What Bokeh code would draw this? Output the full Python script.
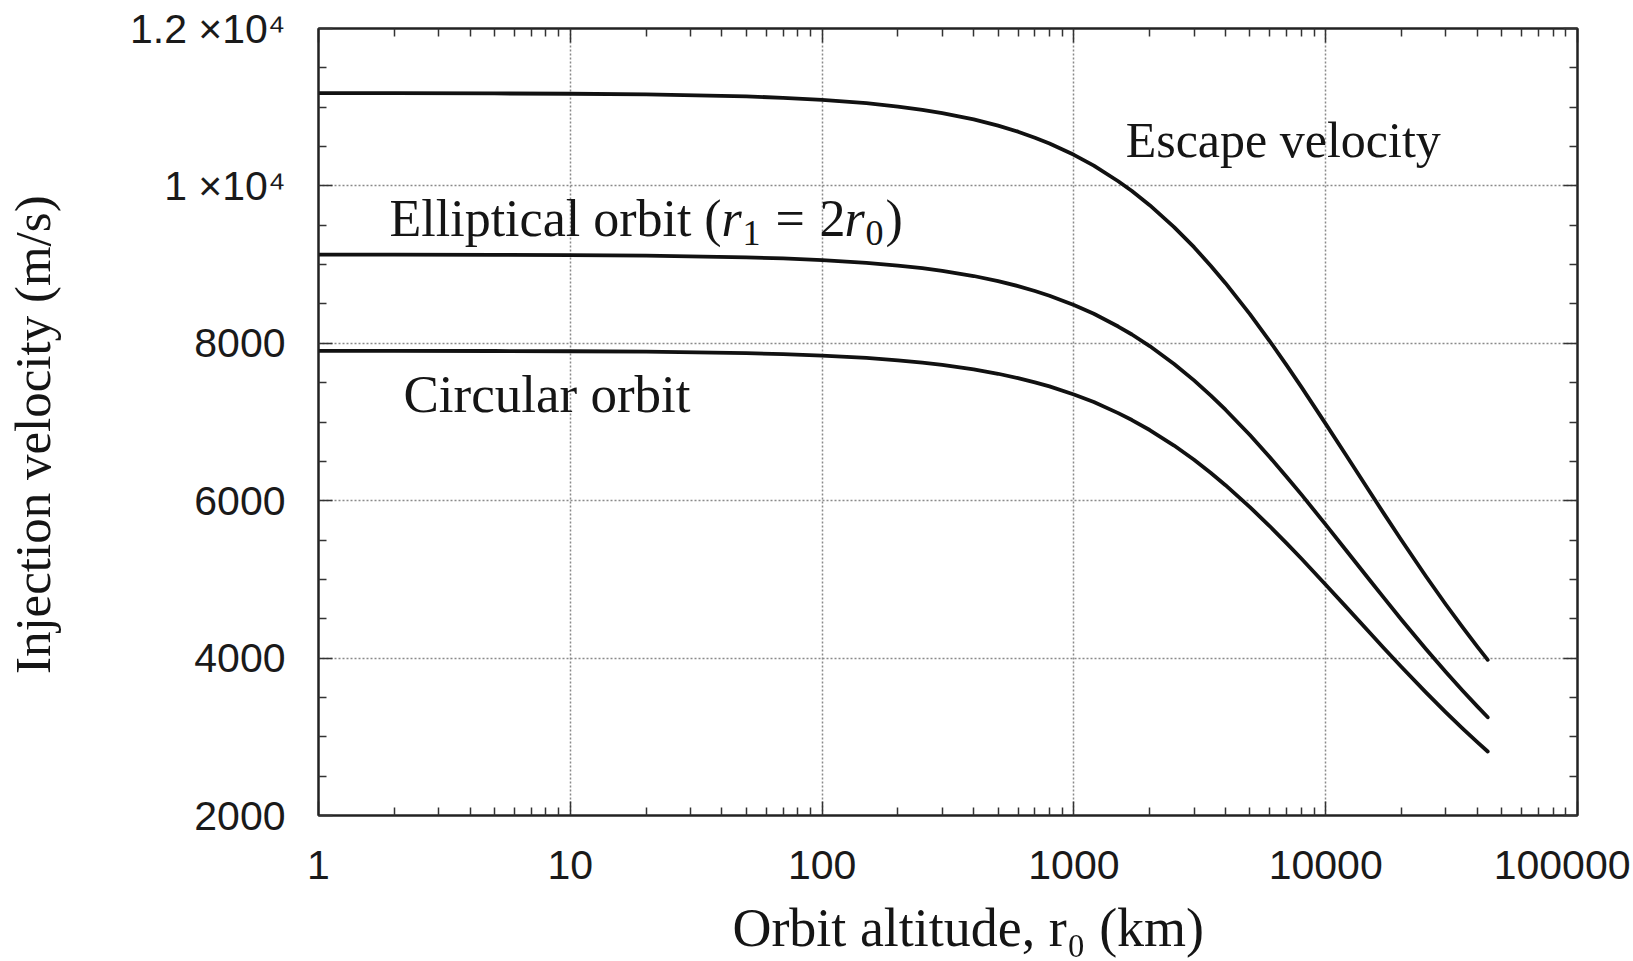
from bokeh.plotting import figure
from bokeh.models import (FixedTicker, LogAxis, LinearAxis, Label, Range1d)
from bokeh.embed import file_html
from bokeh.resources import INLINE

# ---- data ----
altitude_km = [1, 2, 5, 10, 20, 50, 70, 100, 150, 200, 250, 300, 400, 500, 600,
               700, 800, 1000, 1200, 1500, 1700, 2000, 2500, 3000, 3500, 4000,
               5000, 6000, 7000, 8000, 10000, 12000, 15000, 17000, 20000, 25000,
               30000, 35000, 40000, 44000]
circular = [7905, 7904, 7902, 7899, 7893, 7875, 7862, 7844, 7814, 7784, 7755,
            7726, 7669, 7613, 7558, 7504, 7452, 7350, 7253, 7113, 7025, 6898,
            6701, 6520, 6352, 6197, 5919, 5675, 5458, 5265, 4933, 4657, 4318,
            4129, 3887, 3564, 3310, 3104, 2932, 2813]
elliptical = [9128, 9127, 9124, 9121, 9114, 9093, 9078, 9057, 9023, 8988, 8955,
              8921, 8855, 8791, 8727, 8665, 8605, 8487, 8375, 8213, 8112, 7965,
              7738, 7529, 7335, 7156, 6835, 6553, 6302, 6080, 5696, 5377, 4986,
              4768, 4488, 4115, 3822, 3584, 3386, 3248]
escape = [11179, 11178, 11175, 11171, 11162, 11137, 11119, 11093, 11051, 11008,
          10967, 10926, 10845, 10766, 10689, 10612, 10539, 10395, 10257, 10059,
          9935, 9755, 9477, 9221, 8983, 8764, 8371, 8026, 7719, 7446, 6976, 6586,
          6107, 5839, 5497, 5040, 4681, 4390, 4146, 3978]

x_ticks = [1, 10, 100, 1000, 10000, 100000]
x_tick_labels = ["1", "10", "100", "1000", "10000", "100000"]
y_ticks = [2000, 4000, 6000, 8000, 10000, 12000]
y_tick_labels = ["2000", "4000", "6000", "8000", "1 \u00d710\u2074", "1.2 \u00d710\u2074"]

x_minor = [m * 10 ** k for k in range(5) for m in range(2, 10)]
y_minor = [v for v in range(2000, 12001, 500) if v % 2000 != 0]

TICK_FONT = "Liberation Sans"
SERIF = "Liberation Serif"
NB = "\u00a0"

p = figure(width=1630, height=960, x_axis_type="log",
           x_range=Range1d(1, 100000), y_range=Range1d(2000, 12000),
           output_backend="svg", toolbar_location=None,
           min_border_left=318, min_border_right=53,
           min_border_top=28, min_border_bottom=143)
p.background_fill_color = "white"
p.border_fill_color = "white"
p.outline_line_color = "#222222"
p.outline_line_width = 2

xt = FixedTicker(ticks=x_ticks, minor_ticks=x_minor)
yt = FixedTicker(ticks=y_ticks, minor_ticks=y_minor)

def style_axis(ax, ticker, show_labels):
    ax.ticker = ticker
    ax.axis_line_color = "#222222"
    ax.axis_line_width = 2
    ax.major_tick_in = 14
    ax.major_tick_out = 0
    ax.minor_tick_in = 8
    ax.minor_tick_out = 0
    ax.major_tick_line_color = "#333333"
    ax.major_tick_line_width = 1.5
    ax.minor_tick_line_color = "#333333"
    ax.minor_tick_line_width = 1.5
    if show_labels:
        ax.major_label_text_font = TICK_FONT
        ax.major_label_text_font_size = "41px"
        ax.major_label_text_color = "#1a1a1a"
    else:
        ax.major_label_text_font_size = "1px"
        ax.major_label_text_alpha = 0
        ax.major_label_standoff = 0

xa = p.xaxis[0]
style_axis(xa, xt, True)
xa.major_label_overrides = {t: l for t, l in zip(x_ticks, x_tick_labels)}
xa.major_label_standoff = 35
xa.axis_label = NB * 3 + "Orbit altitude, r\u2080 (km)"
xa.axis_label_text_font = SERIF
xa.axis_label_text_font_size = "54px"
xa.axis_label_text_font_style = "normal"
xa.axis_label_text_color = "#151515"
xa.axis_label_standoff = 16

ya = p.yaxis[0]
style_axis(ya, yt, True)
ya.major_label_overrides = {t: l for t, l in zip(y_ticks, y_tick_labels)}
ya.major_label_standoff = 33
ya.axis_label = "Injection velocity (m/s)" + NB * 2
ya.axis_label_text_font = SERIF
ya.axis_label_text_font_size = "51px"
ya.axis_label_text_font_style = "normal"
ya.axis_label_text_color = "#151515"
ya.axis_label_standoff = 66

top = LogAxis()
style_axis(top, xt, False)
p.add_layout(top, "above")
right = LinearAxis()
style_axis(right, yt, False)
p.add_layout(right, "right")

for g, t in ((p.xgrid[0], xt), (p.ygrid[0], yt)):
    g.ticker = t
    g.grid_line_color = "#8a8a8a"
    g.grid_line_width = 1.5
    g.grid_line_dash = "2 2"

for series in (escape, elliptical, circular):
    p.line(altitude_km, series, line_color="#111111", line_width=3.8,
           line_join="round", line_cap="round")

MID = 0.3375  # centre of the text box above the baseline, in em

def add_text(x, y, pieces):
    # each piece: text, x offset (px), baseline offset (px, up), size, style
    for txt, dx, dy, size, style in pieces:
        p.add_layout(Label(x=x, y=y, text=txt, x_offset=dx,
                           y_offset=dy + MID * size,
                           text_font=SERIF, text_font_size=f"{size}px",
                           text_font_style=style, text_color="#151515",
                           text_baseline="middle", text_align="left"))

add_text(1605, 10370, [("Escape velocity", 0, 0, 50, "normal")])

fs = 52
sub = 36
add_text(1.915, 9360, [
    ("Elliptical orbit (", 0, 0, fs, "normal"),
    ("r", 332, 0, fs, "italic"),
    ("1", 353, -9, sub, "normal"),
    ("=", 386, 0, fs, "normal"),
    ("2", 430, 0, fs, "normal"),
    ("r", 455, 0, fs, "italic"),
    ("0", 476, -9, sub, "normal"),
    (")", 496, 0, fs, "normal"),
])

add_text(2.176, 7130, [("Circular orbit", 0, 0, 53, "normal")])

open("out.html", "w").write(file_html(p, INLINE))
